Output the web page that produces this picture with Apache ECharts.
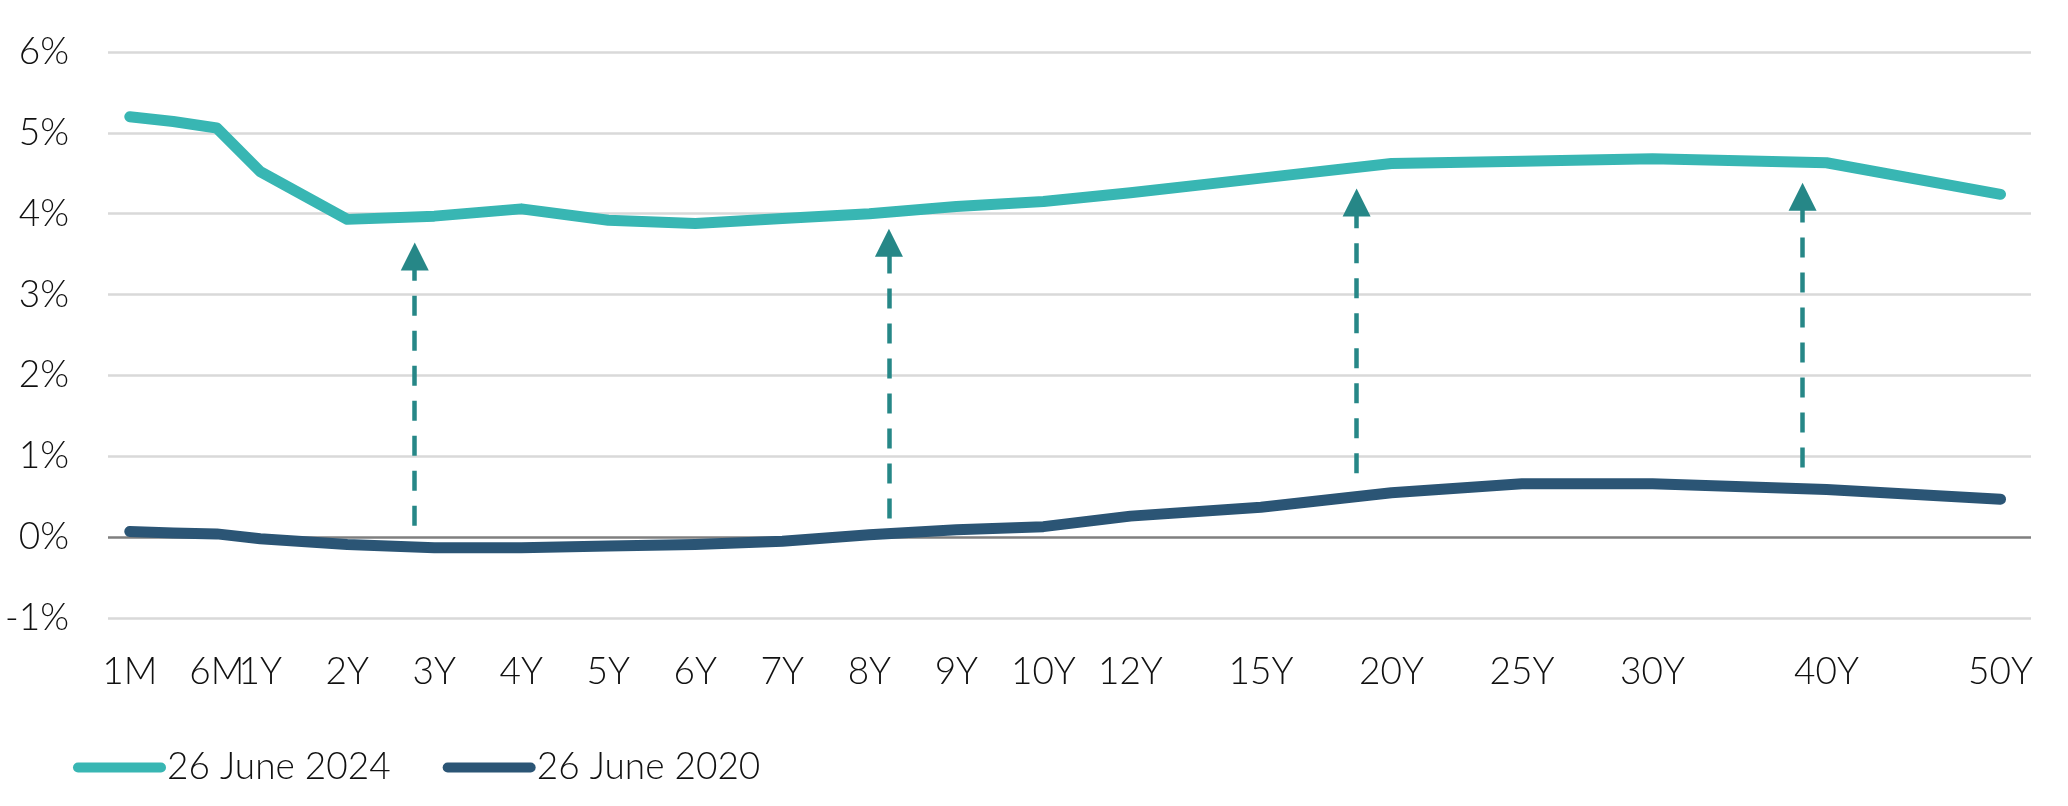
<!DOCTYPE html>
<html>
<head>
<meta charset="utf-8">
<script src="https://cdn.jsdelivr.net/npm/echarts@6/dist/echarts.min.js"></script>
<style>
  html, body { margin: 0; padding: 0; background: #ffffff; }
  #chart { width: 2068px; height: 806px; }
</style>
</head>
<body>
<div id="chart"></div>
<script>
// Tenor axis slots (blank = unlabeled slot)
const categories = ['1M','','6M','1Y','','2Y','','3Y','','4Y','','5Y','','6Y','','7Y','','8Y','','9Y','','10Y','','12Y','','','15Y','','','20Y','','','25Y','','','30Y','','','','40Y','','','','50Y'];

// Yields (%) per slot; null = no observation at that slot
const yields2024 = [5.20,5.14,5.06,4.52,null,3.93,null,3.97,null,4.06,null,3.92,null,3.88,null,3.94,null,4.00,null,4.09,null,4.15,null,4.26,null,null,4.44,null,null,4.62,null,null,4.65,null,null,4.68,null,null,null,4.63,null,null,null,4.24];
const yields2020 = [0.07,0.05,0.04,-0.02,null,-0.09,null,-0.13,null,-0.13,null,-0.11,null,-0.09,null,-0.05,null,0.03,null,0.09,null,0.13,null,0.26,null,null,0.37,null,null,0.55,null,null,0.66,null,null,0.66,null,null,null,0.59,null,null,null,0.47];

const seriesNames = ['26 June 2024', '26 June 2020'];
const yTicks = [-1, 0, 1, 2, 3, 4, 5, 6];

// Arrows: axis slot position, start value, end-of-shaft value (%)
const arrowPos = [6.55, 17.45, 28.2, 38.45];
const arrowFrom = [0.14, 0.23, 0.79, 0.86];
const arrowTo = [3.47, 3.64, 4.14, 4.21];

const FONT = "Lato, 'Liberation Sans', sans-serif";
const FW = 300;
const TXT = '#111111';
const TEAL = '#38b6b3';
const NAVY = '#2b5575';
const ARROW = '#268787';

function toPairs(arr) {
  const out = [];
  arr.forEach((v, i) => { if (v !== null) out.push([i, v]); });
  return out;
}
const labeledSlots = categories.map((c, i) => c ? i : null).filter(v => v !== null);

const chart = echarts.init(document.getElementById('chart'), null, { renderer: 'canvas' });
chart.setOption({
  backgroundColor: '#ffffff',
  animation: false,
  grid: { left: 108, right: 37, top: 52, bottom: 188, containLabel: false },
  legend: {
    data: seriesNames,
    left: 68,
    top: 744,
    itemWidth: 93,
    itemHeight: 11,
    itemGap: 52,
    icon: 'path://M5,0 H88 A5,5 0 0 1 88,10 H5 A5,5 0 0 1 5,0 Z',
    textStyle: { fontFamily: FONT, fontWeight: FW, fontSize: 37, color: TXT, width: 210, padding: [0, 0, 0, -4] }
  },
  xAxis: {
    type: 'value',
    min: -0.5,
    max: 43.7,
    axisLine: { show: false },
    axisTick: { show: false },
    splitLine: { show: false },
    axisLabel: {
      customValues: labeledSlots,
      formatter: v => categories[Math.round(v)] || '',
      fontFamily: FONT, fontWeight: FW, fontSize: 37, color: TXT, margin: 36
    }
  },
  yAxis: {
    type: 'value',
    min: -1, max: 6, interval: 1,
    axisLine: { show: false },
    axisTick: { show: false },
    axisLabel: {
      formatter: v => v + '%',
      fontFamily: FONT, fontWeight: FW, fontSize: 37, color: TXT, margin: 39,
      padding: [8, 0, 0, 0]
    },
    splitLine: {
      lineStyle: {
        color: yTicks.map(t => t === 0 ? '#7f7f7f' : '#d9d9d9'),
        width: 2.5
      }
    }
  },
  series: [
    {
      name: seriesNames[0], type: 'line', data: toPairs(yields2024),
      showSymbol: false, symbol: 'none', connectNulls: true, z: 3,
      color: TEAL,
      lineStyle: { color: TEAL, width: 11, cap: 'round', join: 'round' },
      itemStyle: { color: TEAL }
    },
    {
      name: seriesNames[1], type: 'line', data: toPairs(yields2020),
      showSymbol: false, symbol: 'none', connectNulls: true, z: 3,
      color: NAVY,
      lineStyle: { color: NAVY, width: 11, cap: 'round', join: 'round' },
      itemStyle: { color: NAVY }
    },
    {
      name: 'arrows', type: 'line', data: [], z: 4,
      markLine: {
        silent: true,
        symbol: ['none', 'triangle'],
        symbolSize: 28,
        label: { show: false },
        lineStyle: { color: ARROW, width: 4.5, type: [20, 15] },
        itemStyle: { color: ARROW },
        emphasis: { disabled: true },
        data: arrowPos.map((x, i) => [
          { coord: [x, arrowFrom[i]] },
          { coord: [x, arrowTo[i]] }
        ])
      }
    }
  ]
});
</script>
</body>
</html>
